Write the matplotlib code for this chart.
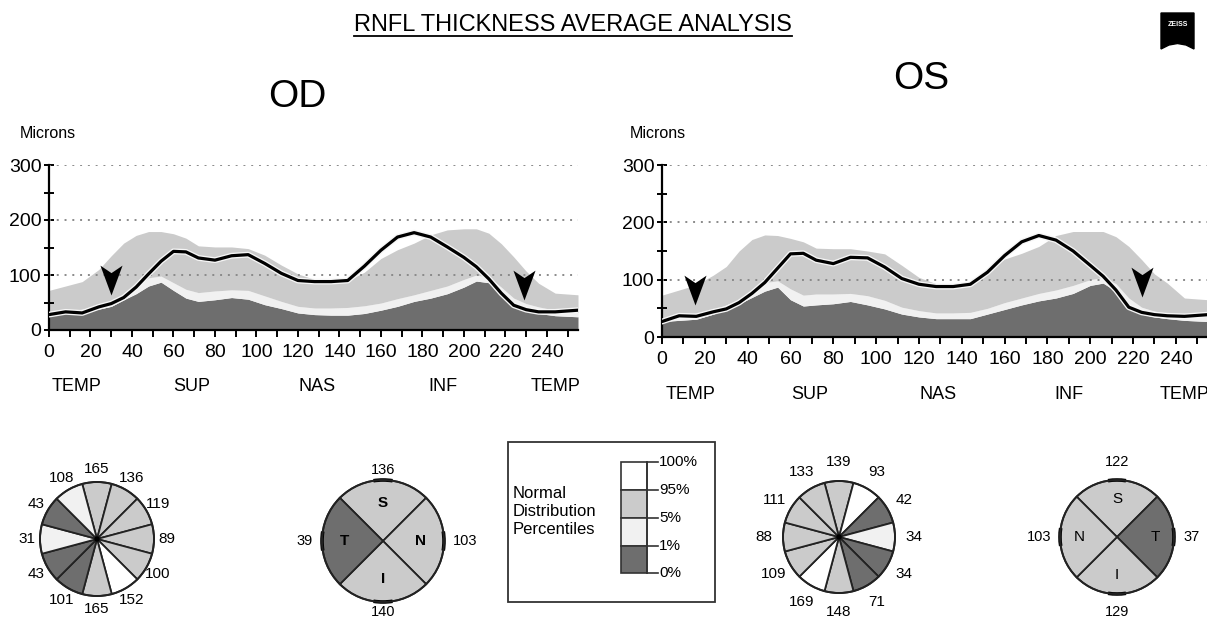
import numpy as np
import matplotlib
matplotlib.use('Agg')
import matplotlib.pyplot as plt
import matplotlib.patheffects as pe
from matplotlib.patches import Wedge, Circle, Rectangle, Arc, Polygon
from matplotlib.path import Path
from matplotlib.ticker import MultipleLocator

plt.rcParams['font.family'] = ['Liberation Sans', 'DejaVu Sans']
ANGOSTA = ['Liberation Sans Narrow', 'Liberation Sans', 'DejaVu Sans']

#############  DATOS
posicion = [0, 8, 16, 24, 30, 36, 42, 48, 54, 60, 66, 72, 80, 88, 96, 104, 112, 120,
            128, 136, 144, 152, 160, 168, 176, 184, 192, 200, 206, 212, 218, 224, 230, 236, 244, 255]

# OD
od_p95 = [72, 80, 88, 110, 135, 158, 172, 179, 179, 175, 167, 153, 151, 151, 148, 136, 118, 102,
          92, 88, 90, 105, 130, 146, 158, 173, 182, 184, 184, 176, 157, 133, 107, 85, 67, 64]
od_p5 = [30, 34, 38, 44, 50, 62, 78, 95, 98, 86, 74, 68, 71, 73, 72, 62, 52, 43,
         40, 40, 41, 44, 49, 57, 64, 72, 80, 92, 100, 96, 78, 58, 48, 42, 36, 32]
od_p1 = [27, 30, 33, 38, 43, 55, 66, 80, 87, 72, 58, 52, 55, 59, 56, 46, 39, 31,
         28, 27, 27, 30, 36, 43, 52, 58, 66, 78, 89, 86, 62, 42, 35, 30, 26, 24]
od_espesor = [28, 33, 31, 42, 48, 59, 78, 102, 125, 143, 142, 131, 127, 135, 137, 121, 103, 90,
              88, 88, 90, 116, 145, 169, 177, 169, 151, 132, 115, 93, 67, 45, 37, 33, 33, 36]
od_flechas_x = [30, 229]
od_flechas_y = [64, 55]

# OS
os_p95 = [73, 82, 91, 108, 123, 150, 170, 178, 177, 172, 166, 155, 154, 154, 150, 145, 125, 104,
          93, 90, 92, 118, 136, 146, 158, 177, 184, 184, 184, 175, 158, 135, 110, 94, 68, 65]
os_p5 = [30, 34, 37, 48, 56, 66, 80, 95, 98, 84, 73, 75, 75, 76, 72, 64, 52, 46,
         42, 42, 43, 50, 60, 68, 76, 82, 90, 100, 104, 93, 68, 52, 45, 42, 38, 35]
os_p1 = [27, 29, 31, 40, 49, 58, 69, 80, 87, 65, 54, 56, 58, 62, 56, 49, 40, 35,
         32, 32, 32, 40, 48, 56, 63, 68, 76, 90, 94, 80, 52, 40, 35, 32, 29, 27]
os_espesor = [27, 37, 36, 44, 49, 60, 76, 95, 120, 145, 146, 134, 128, 139, 138, 122, 102, 92,
              88, 88, 92, 113, 142, 166, 177, 169, 150, 125, 106, 82, 52, 43, 39, 37, 36, 39]
os_flechas_x = [15.5, 224]
os_flechas_y = [56, 70]

sectores = ['TEMP', 'SUP', 'NAS', 'INF', 'TEMP']
sectores_x = [13.5, 69, 129, 190, 244]

# horas de reloj (12, 1, 2, ... 11) y categoria de percentil
od_horas = [165, 136, 119, 89, 100, 152, 165, 101, 43, 31, 43, 108]
od_horas_cat = ['g', 'g', 'g', 'g', 'g', 'w', 'g', 'd', 'd', 'l', 'd', 'l']
os_horas = [139, 93, 42, 34, 34, 71, 148, 169, 109, 88, 111, 133]
os_horas_cat = ['g', 'w', 'd', 'l', 'd', 'd', 'g', 'w', 'g', 'g', 'g', 'g']

# cuadrantes: arriba, derecha, abajo, izquierda
od_cuad = [136, 103, 140, 39]
od_cuad_letra = ['S', 'N', 'I', 'T']
od_cuad_cat = ['g', 'g', 'g', 'd']
os_cuad = [122, 37, 129, 103]
os_cuad_letra = ['S', 'T', 'I', 'N']
os_cuad_cat = ['g', 'd', 'g', 'g']

percentiles = ['100%', '95%', '5%', '1%', '0%']
percentiles_cat = ['w', 'g', 'l', 'd']

OSCURO = '#6e6e6e'
CLARO = '#cbcbcb'
MUY_CLARO = '#f1f1f1'
colores = {'w': 'white', 'g': CLARO, 'l': MUY_CLARO, 'd': OSCURO}

# flecha (punta en el origen)
flecha = Path([(0, 0), (0.37, 1), (0, 0.75), (-0.37, 1), (0, 0)],
              [Path.MOVETO, Path.LINETO, Path.LINETO, Path.LINETO, Path.CLOSEPOLY])

fig = plt.figure(figsize=(12.07, 6.19), dpi=100)

# capa de fondo en pixeles para textos y diagramas
ax0 = fig.add_axes([0, 0, 1, 1])
ax0.set_xlim(0, 1207)
ax0.set_ylim(619, 0)
ax0.axis('off')


def grafico(ax, p95, p5, p1, espesor, fx, fy, y_lab):
    x = np.array(posicion)
    ax.fill_between(x, 0, p1, color=OSCURO, lw=0, zorder=1)
    ax.fill_between(x, p1, p5, color=MUY_CLARO, lw=0, zorder=1)
    ax.fill_between(x, p5, p95, color=CLARO, lw=0, zorder=1)
    for yy in (100, 200, 300):
        ax.axhline(yy, ls=(0, (1, 3)), color='#8a8a8a', lw=1.4, zorder=2)
    ax.plot(x, espesor, color='black', lw=2.3, zorder=3,
            path_effects=[pe.withStroke(linewidth=4.2, foreground='#f6f6f6')])
    ax.plot(fx, fy, ls='none', marker=flecha, ms=43, color='black', mew=0,
            clip_on=False, zorder=4)
    ax.set_xlim(0, 255)
    ax.set_ylim(0, 300)
    ax.set_facecolor('none')
    for s in ('top', 'right'):
        ax.spines[s].set_visible(False)
    for s in ('left', 'bottom'):
        ax.spines[s].set_linewidth(1.6)
    ax.set_xticks(range(0, 241, 20))
    ax.xaxis.set_minor_locator(MultipleLocator(10))
    ax.set_yticks([0, 100, 200, 300])
    ax.yaxis.set_minor_locator(MultipleLocator(50))
    ax.tick_params(axis='x', which='both', direction='out', length=5, width=1.4,
                   labelsize=14, pad=5)
    ax.tick_params(axis='y', which='both', direction='inout', length=7, width=1.4,
                   labelsize=14, pad=2)
    for lab, xs in zip(sectores, sectores_x):
        ax.text(xs, y_lab, lab, transform=ax.get_xaxis_transform(), ha='center',
                va='center', family=ANGOSTA, fontsize=13)


ax_od = fig.add_axes([49 / 1207, 1 - 330 / 619, 529 / 1207, 165 / 619])
grafico(ax_od, od_p95, od_p5, od_p1, od_espesor, od_flechas_x, od_flechas_y, -0.345)
ax_os = fig.add_axes([662 / 1207, 1 - 337 / 619, 546 / 1207, 172 / 619])
grafico(ax_os, os_p95, os_p5, os_p1, os_espesor, os_flechas_x, os_flechas_y, -0.337)

# textos superiores
titulo = ax0.text(573, 25, 'RNFL THICKNESS AVERAGE ANALYSIS', ha='center', va='center', fontsize=17)
ax0.text(297, 97, 'OD', ha='center', va='center', fontsize=28)
ax0.text(921, 79, 'OS', ha='center', va='center', fontsize=28)
ax0.text(20, 133, 'Microns', ha='left', va='center', fontsize=11.5)
ax0.text(630, 133, 'Microns', ha='left', va='center', fontsize=11.5)

# logo
ax0.add_patch(Polygon([(1161, 13), (1194, 13), (1194, 49), (1186, 45), (1177.5, 43.5),
                       (1169, 45), (1161, 49)], closed=True, color='black'))
ax0.text(1177.5, 25, 'ZEISS', color='white', ha='center', va='center', fontsize=5,
         fontweight='bold', family=ANGOSTA)


def reloj(cx, cy, r, rl, valores, cats):
    for k, (v, c) in enumerate(zip(valores, cats)):
        ang = 30 * k - 90
        ax0.add_patch(Wedge((cx, cy), r, ang - 15, ang + 15, facecolor=colores[c],
                            edgecolor='#222222', lw=1.3))
        ax0.text(cx + rl * np.cos(np.radians(ang)), cy + rl * np.sin(np.radians(ang)), str(v),
                 ha='center', va='center', fontsize=11)
    ax0.add_patch(Circle((cx, cy), r, fill=False, edgecolor='#222222', lw=1.4))
    ax0.add_patch(Circle((cx, cy), 2, color='black'))


def cuadrantes(cx, cy, r, rl, valores, letras, cats, negrita):
    for k, (v, le, c) in enumerate(zip(valores, letras, cats)):
        ang = 90 * k - 90
        ax0.add_patch(Wedge((cx, cy), r, ang - 45, ang + 45, facecolor=colores[c],
                            edgecolor='#222222', lw=1.3))
        ax0.add_patch(Arc((cx, cy), 2 * r, 2 * r, theta1=ang - 9, theta2=ang + 9,
                          color='black', lw=2.6))
        ca, sa = np.cos(np.radians(ang)), np.sin(np.radians(ang))
        if k % 2 == 0:
            ax0.text(cx, cy + rl * sa, str(v), ha='center', va='center', fontsize=10.5)
        else:
            ax0.text(cx + (r + 9) * ca, cy, str(v), ha='left' if ca > 0 else 'right',
                     va='center', fontsize=10.5)
        ax0.text(cx + 38 * ca, cy + 38 * sa, le, ha='center', va='center', fontsize=11,
                 fontweight='bold' if negrita else 'normal')
    ax0.add_patch(Circle((cx, cy), r, fill=False, edgecolor='#222222', lw=1.4))


reloj(97, 539, 57, 70, od_horas, od_horas_cat)
cuadrantes(383, 541, 61, 71, od_cuad, od_cuad_letra, od_cuad_cat, True)
reloj(839, 537, 56, 75, os_horas, os_horas_cat)
cuadrantes(1117, 537, 57, 75, os_cuad, os_cuad_letra, os_cuad_cat, False)

# leyenda
ax0.add_patch(Rectangle((508, 442), 207, 160, fill=False, edgecolor='#333333', lw=1.3))
ax0.text(513, 511, 'Normal\nDistribution\nPercentiles', ha='left', va='center',
         fontsize=12, linespacing=1.25)
niveles = [462, 490, 518, 546, 573]
for i, c in enumerate(percentiles_cat):
    ax0.add_patch(Rectangle((621, niveles[i]), 26, niveles[i + 1] - niveles[i],
                            facecolor=colores[c], edgecolor='#333333', lw=1.2))
ax0.plot([647, 647], [niveles[0], niveles[-1]], color='#333333', lw=1.2)
for lab, yy in zip(percentiles, niveles):
    ax0.plot([647, 658], [yy, yy], color='#333333', lw=1.2)
    ax0.text(659, yy, lab, ha='left', va='center', fontsize=11)

# subrayado del titulo
fig.canvas.draw()
bb = titulo.get_window_extent().transformed(ax0.transData.inverted())
ax0.plot([bb.x0, bb.x1], [36, 36], color='black', lw=1.3)

plt.savefig('out.png', dpi=100)
